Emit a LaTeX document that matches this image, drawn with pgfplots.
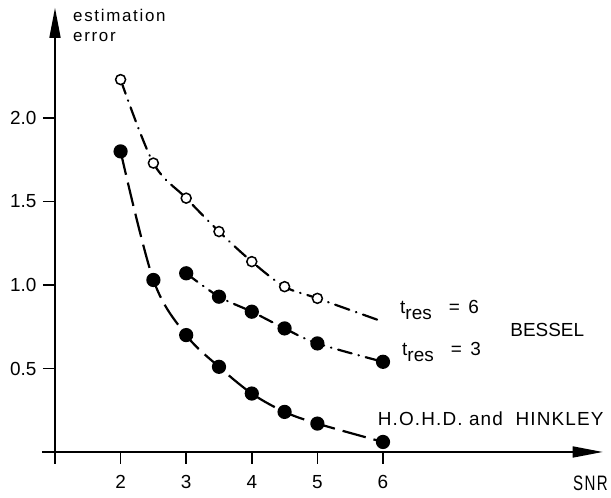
\documentclass[border=0pt]{standalone}
\usepackage{fontspec}
\setmainfont{Liberation Sans}
\newfontfamily\wide[LetterSpace=6]{Liberation Sans}
\newfontfamily\wider[LetterSpace=10]{Liberation Sans}
\usepackage{pgfplots}
\pgfplotsset{compat=1.18}
\usetikzlibrary{arrows.meta}
\begin{document}
\begin{tikzpicture}
\fontsize{19}{21}\selectfont
\begin{axis}[
 x=65.6bp, y=167bp,
 xmin=1, xmax=9.35, ymin=0, ymax=2.66,
 axis lines=left,
 axis line style={line width=1.6bp, -{Triangle[length=30bp,width=11bp]}},
 xtick={1,2,3,4,5,6}, xticklabels={,2,3,4,5,6},
 ytick={0.5,1,1.5,2},
 yticklabel style={/pgf/number format/fixed,/pgf/number format/fixed zerofill,/pgf/number format/precision=1},
 tick align=outside, major tick length=12bp,
 tick style={line width=1.6bp, black},
 /pgf/number format/assume math mode=true,
 ticklabel style={font=\fontsize{19}{21}\selectfont},
 xticklabel style={yshift=-5bp},
 clip=false,
]
% H.O.H.D. and HINKLEY
\addplot[line width=2.2bp, dash pattern=on 24bp off 8bp, smooth, tension=0.55,
  mark=*, mark size=6bp, mark options={solid, fill=black}] coordinates {
 (2,1.80) (2.5,1.03) (3,0.70) (3.5,0.51) (4,0.35) (4.5,0.24) (5,0.17) (6,0.06)};
% t_res = 3
\addplot[line width=2.2bp, line cap=round, dash pattern=on 14bp off 7bp on 0.5bp off 7bp, smooth, tension=0.55,
  mark=*, mark size=6bp, mark options={solid, fill=black}] coordinates {
 (3,1.07) (3.5,0.93) (4,0.84) (4.5,0.74) (5,0.65) (6,0.54)};
% t_res = 6 line
\addplot[line width=2.2bp, line cap=round, dash pattern=on 15bp off 7bp on 0.5bp off 7bp, smooth, tension=0.55] coordinates {
 (2,2.23) (2.5,1.73) (3,1.52) (3.5,1.32) (4,1.14) (4.5,0.99) (5,0.92) (6,0.78)};
% t_res = 6 marks
\addplot[only marks, mark=*, mark size=5bp, mark options={solid, fill=white, draw=black, line width=1.5bp}] coordinates {
 (2,2.23) (2.5,1.73) (3,1.52) (3.5,1.32) (4,1.14) (4.5,0.99) (5,0.92)};

\draw[line width=1.6bp] (axis cs:0.8,0) -- (axis cs:1,0);

\node[anchor=west, inner sep=0pt] at (axis cs:6.26,0.85) {t\raisebox{-0.55ex}{res}\hspace{0.9em}= \,6};
\node[anchor=west, inner sep=0pt] at (axis cs:6.29,0.60) {t\raisebox{-0.55ex}{res}\hspace{0.9em}= \,3};
\node[anchor=west, inner sep=0pt] at (axis cs:7.94,0.73) {BESSEL};
\node[anchor=west, inner sep=0pt] at (axis cs:5.92,0.20) {\wide H.O.H.D.\ and\ \ HINKLEY};
\node[anchor=east, inner sep=0pt, font=\fontsize{21}{23}\selectfont] at (axis cs:9.43,-0.19) {\scalebox{0.72}[1]{S\kern2ptN\kern2ptR}};
\node[anchor=base west, inner sep=0pt, font=\fontsize{17}{19}\selectfont] at (axis cs:1.274,2.575) {\wider estimation};
\node[anchor=base west, inner sep=0pt, font=\fontsize{17}{19}\selectfont] at (axis cs:1.274,2.458) {\wider error};
\coordinate (bbl) at (axis cs:0.1616,-0.2754);
\coordinate (btr) at (axis cs:9.476,2.7066);
\end{axis}
\pgfresetboundingbox
\path[use as bounding box] (bbl) rectangle (btr);
\end{tikzpicture}
\end{document}
